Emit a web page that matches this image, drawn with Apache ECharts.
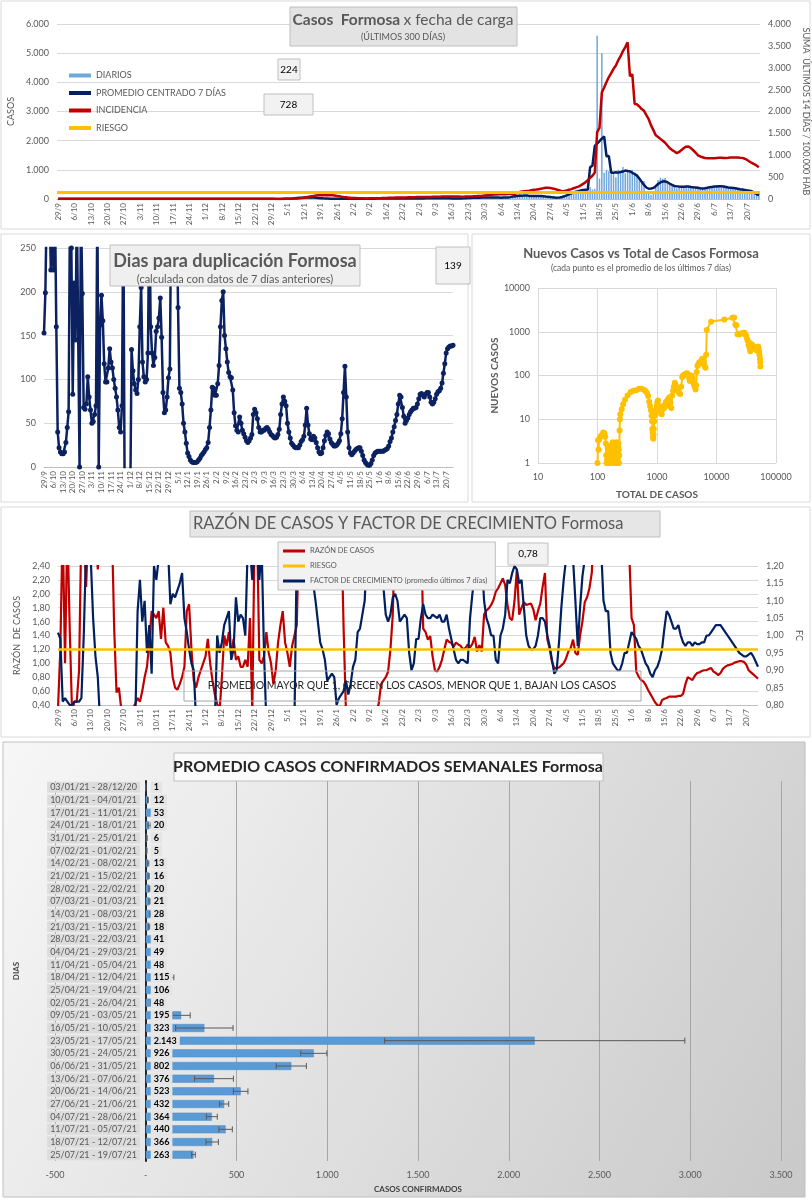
<!DOCTYPE html>
<html><head><meta charset="utf-8">
<script src="https://cdn.jsdelivr.net/npm/echarts@6/dist/echarts.min.js"></script>
<style>html,body{margin:0;padding:0;background:#fff}#c{width:812px;height:1200px}</style>
</head><body><div id="c"></div><script>
const FONT = 'Lato';
const GRAY = '#595959';

// ---------- categories ----------
const days = [];
for (let i = 0; i < 300; i++) { const d = new Date(2020, 8, 29 + i); days.push(d.getDate() + '/' + (d.getMonth() + 1)); }

// ---------- chart 1: daily cases (29/9/20 - 25/7/21) ----------
const dailyCases = [2,0,
1,3,0,2,1,0,4,2,1,0,3,1,2,0,1,5,2,0,1,3,0,2,1,0,1,2,4,1,0,2,1,
0,1,2,3,1,0,2,1,4,2,0,1,3,1,0,2,1,1,0,3,2,1,0,1,2,0,1,3,1,0,
1,2,0,1,3,2,1,0,2,1,4,1,0,2,1,3,0,1,2,1,0,2,1,3,0,1,2,
1,0,2,1,1,2,0, 3,5,8,10,15,20,23, 40,55,62,70,48,55,41, 35,28,22,18,15,12,10,
8,7,6,5,6,5,5, 4,6,5,3,6,5,6, 8,10,12,15,14,16,16, 14,18,15,17,16,15,17,
18,22,19,21,20,20,20, 24,20,22,19,23,20,19, 25,30,27,32,28,26,28, 22,18,16,19,17,18,16,
30,35,45,40,48,44,45, 52,50,47,49,51,46,48, 45,50,52,46,44,50,49, 90,120,180,110,95,110,100,
120,110,105,100,95,110,102, 70,55,45,40,38,42,46, 60,110,150,200,250,280,315, 250,300,280,350,400,330,351,
5600,700,5000,900,1000,950,851, 850,750,1000,900,1100,880,1002, 950,1000,900,850,700,600,614,
250,200,150,250,400,650,732, 700,720,520,480,450,420,371, 420,450,440,430,410,450,424,
380,350,360,370,340,380,368, 420,450,480,460,430,410,430, 400,390,370,350,360,340,352,
300,290,272,255,260,240,224];

const avg7 = [1,1,2,1,1,2,2,1,1,1, 2,1,2,2,1,1,1,2,1,1, 1,1,1,2,2,1,1,1,1,1, 1,1,2,2,1,1,1,1,2,1,
1,1,1,1,1,2,1,1,1,1, 1,1,1,1,1,1,2,1,1,1, 1,1,1,1,1,2,1,1,1,1, 2,1,1,1,1,1,1,1,2,1, 1,1,1,1,1,1,1,1,1,1,
1,1,1,2,3,4,6, 8,10,12,17,25,32,39, 45,50,53,54,52,48,42, 36,28,22,18,15,12,10,
8,7,6,6,5,5,5, 5,5,5,5,6,7,8, 9,10,11,12,13,14,15, 15,16,16,16,16,17,17,
18,19,19,20,20,20,21, 21,21,21,21,22,23,23, 24,26,28,28,28,27,25, 23,21,18,18,17,20,24,
28,32,37,41,45,46,47, 48,49,49,49,49,49,48, 48,47,48,48,54,64,83, 92,99,108,115,119,118,107,
106,106,106,106,99,91,82, 74,66,56,48,47,54,69, 92,123,157,195,222,249,268, 289,311,318,323,1087,1144,1819,
1897,1983,2072,2143,1464,1472,900, 900,914,904,926,940,976,962, 955,897,857,802,702,588,481,
395,352,359,376,440,515,567, 600,607,575,523,483,444,433, 426,420,424,432,426,412,401,
392,382,372,364,370,384,401, 414,427,431,440,437,429,413, 397,387,377,366,352,337,323,
309,295,280,263,220,170,120];

const incidence = [3,3,3,3,3,3,4,4,4,3, 3,3,3,4,4,4,4,3,3,3, 3,3,3,3,3,3,3,3,3,3, 3,3,3,3,3,3,3,3,3,3,
3,3,3,3,3,3,3,3,3,3, 3,3,3,3,3,3,3,3,3,3, 3,3,3,3,3,3,3,3,3,3, 3,3,3,3,3,3,3,3,3,3, 3,3,3,3,3,3,3,3,3,3,
3,3,3,2,2,2,2, 3,4,5,7,9,12,16, 22,31,42,53,62,71,78, 83,86,87,88,88,87,85,
78,70,62,53,45,38,31, 27,24,22,19,17,15,13, 14,15,16,17,18,20,21, 23,25,27,29,31,33,34,
35,36,37,38,40,41,42, 43,44,45,46,47,47,48, 49,50,52,53,55,56,57, 57,56,56,55,55,54,54,
56,58,60,62,65,67,69, 75,82,88,93,98,102,105, 107,109,110,111,112,112,113, 120,135,160,170,178,185,190,
200,210,215,225,235,245,258, 255,250,240,230,210,195,180, 185,195,210,225,245,265,284, 313,345,380,430,485,530,604,
1527,1625,2433,2550,2675,2787,2876, 2976,3051,3171,3263,3380,3472,3580, 2805,2855,2172,2164,2114,2056,2016,
1916,1824,1682,1574,1457,1419,1374, 1332,1285,1222,1160,1118,1088,1048, 1076,1118,1166,1196,1198,1165,1114,
1061,999,972,954,936,929,929, 929,929,936,941,944,937,938, 941,948,950,947,950,943,940,
920,893,858,824,796,768,728];
const riesgoIncidencia = 150;

// ---------- chart 2: days to double ----------
const doublingDays = [153,199,300,300,300,225,300,225,300,160,40,22,17,15,15,17,28,45,63,300,250,83,210,145,300,300,0,300,
198,68,66,72,103,80,65,50,52,60,70,300,0,162,196,167,118,97,97,113,135,120,113,100,90,80,65,45,40,70,300,
-50,-50,-50,-50,-50,
134,110,95,88,84,100,160,205,120,103, 97,100,130,300,160,130,116,125,155,160,
170,193,148,85,62,65,80,102,112,300, 300,300,300,300,182,90,85,72,50,40,
27,16,12,8,6,5,5,5,6,8, 10,13,15,17,20,22,28,45,65,91,
90,82,82,95,116,160,190,200,150,135, 120,108,103,102,88,62,47,42,40,57,
50,42,38,34,30,28,30,33,37,60, 66,62,55,45,40,40,42,42,44,45,
43,40,37,36,34,33,34,37,43,60, 72,80,75,70,50,40,33,27,25,23,
22,22,22,25,29,31,35,48,67,48, 38,32,31,35,33,28,22,17,15,16,
22,30,36,40,38,32,28,26,24,24, 25,27,30,38,55,85,115,80,40,22,
16,14,16,18,20,21,22,22,18,13, 8,5,3,2,2,4,8,13,16,17,
18,18,18,18,18,19,20,21,24,29, 33,40,46,53,60,72,82,80,68,58,
50,53,56,60,63,65,67,67,68,72, 78,83,84,82,80,83,85,85,80,74,
72,74,78,83,86,87,90,96,107,118, 130,135,137,138,138,139];

// ---------- chart 3: new cases vs total (log-log) ----------
const totalCases = [100,102,104,106,110,115,120,125,130,135,138,140,142,145,148,150,152,155,158,160,163,165,168,170,172,175,178,180,182,185,188,190,193,195,198,200,203,205,208,210,212,215,218,220,222,225,228,230,232,235,238,242,255,270,290,320,360,400,450,500,550,600,640,680,710,740,765,790,810,825,835,845,855,865,875,885,900,915,930,950,970,990,1010,1040,1070,1100,1130,1160,1200,1240,1280,1320,1370,1420,1470,1520,1570,1620,1680,1740,1800,1860,1920,1990,2050,2120,2200,2280,2350,2450,2550,2650,2750,2900,3050,3200,3350,3450,3550,3650,3800,3950,4050,4150,4300,4450,4550,4650,4780,4950,5150,5350,5550,5750,5950,6150,6350,6550,6700,6850,8100,13500,18500,19800,20800,21600,22500,24000,25500,27000,28500,29500,30500,31500,32500,33500,34500,35500,36200,36800,37600,38800,39800,40800,41800,42800,43800,44800,45800,46800,47800,48800,49800,50600,51400,52200,53000,53800,54300,54700];
const newCasesAvg = [1,3.3,2,3.4,3.8,4.2,4.5,5,4.8,4,2.8,1.5,1,1.2,2.2,1.6,1,1.4,2,1.2,1,1.8,2.5,1.5,1,1.2,2,3,2.2,1.3,1,1.5,2.5,2.8,2,1.2,1,1.6,2.4,3,2.6,1.5,1,1.3,2.4,2.8,2,1,1.5,5.5,10,13,17,22,28,35,42,45,46,50,50,47,44,40,34,25,20,16,12,9,6,5,4,3.6,4.5,6,9,12,15,13,17,20,24,27,20,16,18,15,13,17,20,18,22,25,20,28,30,32,24,18,35,45,55,68,60,48,45,52,40,38,55,92,100,105,110,112,105,90,75,80,100,88,70,62,55,48,60,120,165,180,200,190,215,240,230,200,160,150,300,1100,1700,1900,2100,2120,1450,1400,880,860,900,920,950,950,880,800,700,620,500,560,420,360,480,520,450,480,430,420,440,430,400,380,420,450,460,420,380,330,290,240,200,160];

// ---------- chart 4: ratio of cases and growth factor ----------
const razonCasos = [0.35,1.2,3.0,1.0,3.0,1.5,0.3,0.45,0.45,0.9,
3.0,3.0,2.1,3.0,3.0,3.0,3.0,2.35,3.0,3.0,
3.0,3.0,3.0,3.0,1.5,0.58,0.65,0.35,0.3,0.3,
0.3,0.3,0.35,0.42,0.5,0.45,0.6,0.8,0.95,1.3,
1.75,1.7,1.65,1.75,1.35,1.8,1.3,1.25,1.15,0.8,
0.65,0.62,0.7,0.8,0.95,1.75,1.85,1.2,0.75,0.65,
0.8,0.9,1.0,1.1,1.35,1.0,0.75,0.55,0.42,0.3,
0.8,1.4,1.25,1.45,1.1,1.35,1.05,1.1,0.95,0.95,
1.05,0.95,1.65,0.3,3.0,3.0,1.05,1.0,1.1,1.45,
1.15,1.0,0.7,0.9,1.3,1.55,1.75,1.3,1.15,0.95,
1.25,1.4,1.55,3.0,3.0,3.0,3.0,3.0,3.0,3.0,
3.0,3.0,3.0,3.0,3.0,3.0,3.0,3.0,3.0,3.0,
3.0,3.0,1.5,0.3,0.3,0.3,0.3,0.3,0.3,0.3,
0.3,0.3,0.3,0.3,0.3,0.3,0.3,0.42,0.7,0.75,
0.8,0.88,1.2,1.7,3.0,3.0,3.0,3.0,3.0,3.0,
3.0,3.0,3.0,3.0,3.0,3.0,1.5,1.45,1.34,1.39,
1.1,0.9,0.88,0.95,1.05,1.2,1.34,1.31,1.29,1.24,
1.3,1.27,1.25,1.2,1.22,1.27,1.23,1.28,1.38,1.17,
1.26,1.17,1.7,1.76,1.79,1.84,1.91,2.03,2.08,2.15,
2.22,2.13,1.84,1.65,1.62,1.9,2.35,1.7,1.8,1.88,
1.84,1.85,1.86,1.78,1.62,1.75,1.86,2.1,2.3,1.35,
1.21,1.02,0.93,0.93,0.94,0.97,1.0,1.07,1.17,1.22,
1.34,1.15,1.12,1.4,1.6,1.88,1.95,2.08,2.3,3.0,
3.0,3.0,3.0,3.0,3.0,3.0,3.0,3.0,3.0,3.0,
3.0,3.0,3.0,3.0,2.6,1.65,1.55,0.88,0.81,0.76,
0.74,0.69,0.62,0.56,0.5,0.44,0.4,0.38,0.47,0.49,
0.5,0.52,0.52,0.52,0.52,0.53,0.53,0.56,0.7,0.8,
0.78,0.76,0.82,0.86,0.87,0.89,0.9,0.9,0.92,0.93,
0.88,0.86,0.83,0.86,0.92,0.95,0.97,0.98,0.99,1.01,
1.02,1.03,1.03,1.02,0.98,0.9,0.87,0.84,0.81,0.78];

const factorCrecimiento = [1.008,0.99,0.81,0.82,0.81,0.80,0.80,0.81,0.81,0.81,
0.82,1.0,1.25,1.25,1.22,1.05,0.94,0.88,0.75,0.75,
0.75,0.75,0.75,0.75,0.75,0.75,0.75,0.75,0.75,0.75,
0.75,0.75,0.75,0.75,1.07,1.16,1.04,1.10,0.95,1.03,
0.89,1.2,1.16,1.22,1.25,1.25,1.25,1.25,1.09,1.12,
1.11,1.13,1.15,1.18,1.05,1.01,0.96,0.92,0.9,0.75,
0.75,0.75,0.75,0.75,0.75,0.75,0.75,0.75,1.0,0.95,
0.98,1.03,1.05,1.07,0.93,0.96,1.11,1.04,1.06,1.05,
1.0,1.25,1.25,1.16,1.25,1.25,1.16,1.25,0.95,0.75,
0.75,0.75,0.75,0.75,0.75,0.75,0.75,0.75,0.75,0.75,
0.75,0.75,1.25,1.25,1.25,1.25,1.25,1.25,1.25,1.15,
1.1,1.04,0.98,0.96,0.93,0.87,0.88,0.89,0.88,0.80,
0.82,0.83,0.84,0.87,0.83,0.86,0.91,0.93,1.01,1.02,
1.06,1.1,1.25,1.25,1.25,1.25,1.25,1.25,1.25,1.14,
1.06,1.04,1.06,1.11,1.12,1.10,1.04,1.05,1.06,1.05,
0.95,0.90,0.92,0.99,0.99,1.05,1.09,1.06,1.05,1.05,
1.06,1.055,1.05,1.06,1.04,1.04,1.06,1.02,0.99,0.96,
0.93,0.92,0.93,0.93,0.925,0.92,1.05,1.12,1.17,1.22,
1.25,1.22,1.1,1.05,1.03,1.0,1.0,0.93,0.92,1.0,
1.02,1.06,1.16,1.15,1.18,1.2,1.19,1.15,1.16,1.08,
1.0,0.97,0.96,0.96,0.97,1.0,1.05,1.05,1.04,1.0,
0.97,0.93,0.89,0.9,0.98,1.08,1.16,1.22,1.25,1.25,
1.22,1.1,0.97,1.08,1.17,1.22,1.25,1.25,1.25,1.25,
1.25,1.25,1.25,1.1,1.07,1.07,0.95,0.92,0.91,0.90,
0.90,0.92,0.95,0.95,0.98,1.01,1.0,0.99,0.97,0.96,
0.94,0.92,0.91,0.89,0.88,0.9,0.91,0.93,0.96,1.02,
1.07,1.06,1.04,1.02,1.02,1.03,1.0,0.98,0.97,0.98,
0.98,0.97,0.98,0.975,0.975,0.98,0.98,1.0,1.0,1.01,
1.02,1.03,1.03,1.03,1.02,1.01,1.0,0.99,0.98,0.97,
0.96,0.95,0.945,0.94,0.94,0.945,0.95,0.94,0.925,0.91];
const riesgoRazon = 1.2;

// ---------- chart 5: weekly averages ----------
const weekLabels = ['03/01/21 - 28/12/20','10/01/21 - 04/01/21','17/01/21 - 11/01/21','24/01/21 - 18/01/21','31/01/21 - 25/01/21','07/02/21 - 01/02/21','14/02/21 - 08/02/21','21/02/21 - 15/02/21','28/02/21 - 22/02/21','07/03/21 - 01/03/21','14/03/21 - 08/03/21','21/03/21 - 15/03/21','28/03/21 - 22/03/21','04/04/21 - 29/03/21','11/04/21 - 05/04/21','18/04/21 - 12/04/21','25/04/21 - 19/04/21','02/05/21 - 26/04/21','09/05/21 - 03/05/21','16/05/21 - 10/05/21','23/05/21 - 17/05/21','30/05/21 - 24/05/21','06/06/21 - 31/05/21','13/06/21 - 07/06/21','20/06/21 - 14/06/21','27/06/21 - 21/06/21','04/07/21 - 28/06/21','11/07/21 - 05/07/21','18/07/21 - 12/07/21','25/07/21 - 19/07/21'];
const weeklyAvg = [1,12,53,20,6,5,13,16,20,21,28,18,41,49,48,115,106,48,195,323,2143,926,802,376,523,432,364,440,366,263];
const weeklyErr = [0,2,10,8,2,2,4,3,3,3,5,4,8,6,6,40,30,20,50,158,827,72,83,107,40,25,30,37,34,10];

[dailyCases, avg7, incidence, doublingDays, razonCasos, factorCrecimiento].forEach((a, k) => {
  if (a.length !== 300) throw new Error('array ' + k + ' length ' + a.length);
});
if (totalCases.length !== newCasesAvg.length) throw new Error('scatter len ' + totalCases.length + ' ' + newCasesAvg.length);

function thou(v) { const s = Math.abs(Math.round(v)).toString().replace(/\B(?=(\d{3})+(?!\d))/g, '.'); return (v < 0 ? '-' : '') + s; }
function comma2(v) { return v.toFixed(2).replace('.', ','); }

function catAxis(gi, gap) {
  return { type: 'category', gridIndex: gi, data: days, boundaryGap: gap,
    axisTick: { show: false }, axisLine: { lineStyle: { color: '#bfbfbf' } },
    axisLabel: { interval: 6, rotate: 90, fontSize: 8, color: GRAY, margin: 4, fontFamily: FONT } };
}
const split = { show: true, lineStyle: { color: '#d9d9d9', width: 1 } };
const lbl = (extra) => Object.assign({ fontSize: 9, color: GRAY, fontFamily: FONT }, extra || {});

const chart = echarts.init(document.getElementById('c'), null, { renderer: 'canvas' });

const box = (x, y, w, h, fill, stroke, z) => ({ type: 'rect', shape: { x, y, width: w, height: h }, style: { fill: fill, stroke: stroke, lineWidth: 1 }, z: z, silent: true });
const txt = (x, y, text, opt) => ({ type: 'text', x, y, z: 101, silent: true,
  style: Object.assign({ text, fontFamily: FONT, fontSize: 10, fill: GRAY, align: 'center', verticalAlign: 'middle' }, opt || {}) });

const graphics = [
  box(1, 1, 809, 228, 'rgba(0,0,0,0)', '#d9d9d9', -10),
  box(1, 234, 467, 268, 'rgba(0,0,0,0)', '#d9d9d9', -10),
  box(472, 234, 338, 268, 'rgba(0,0,0,0)', '#d9d9d9', -10),
  box(1, 507, 809, 230, 'rgba(0,0,0,0)', '#d9d9d9', -10),
  { type: 'rect', z: -10, silent: true, shape: { x: 3, y: 742, width: 802, height: 455 },
    style: { stroke: '#bfbfbf', lineWidth: 1, fill: new echarts.graphic.LinearGradient(0, 0, 1, 1, [{ offset: 0, color: '#f7f7f7' }, { offset: 1, color: '#c9c9c9' }]) } },
  // chart 1
  box(290, 7, 227, 39, '#e3e3e3', '#bfbfbf', 100),
  { type: 'text', x: 403, y: 20, z: 101, silent: true, style: { text: '{b|Casos  Formosa} {n|x fecha de carga}', align: 'center', verticalAlign: 'middle',
    rich: { b: { fontFamily: FONT, fontSize: 15.5, fontWeight: 'bold', fill: GRAY }, n: { fontFamily: FONT, fontSize: 15.5, fill: GRAY } } } },
  txt(403, 37, '(ÚLTIMOS 300 DÍAS)', { fontSize: 9 }),
  box(278, 59, 22, 21, '#f2f2f2', '#bfbfbf', 100),
  txt(289, 70, '224', { fill: '#000', fontSize: 10 }),
  box(264, 94, 49, 21, '#f2f2f2', '#bfbfbf', 100),
  txt(288.5, 104.5, '728', { fill: '#000', fontSize: 10 }),
  // chart 2
  box(110, 245, 250, 41, '#efefef', '#bfbfbf', 100),
  txt(235, 261, 'Dias para duplicación Formosa', { fontSize: 18, fontWeight: 'bold' }),
  txt(235, 279, '(calculada con datos de 7 días anteriores)', { fontSize: 11 }),
  box(436, 247, 34, 37, '#f2f2f2', '#bfbfbf', 100),
  txt(453, 266, '139', { fill: '#000', fontSize: 10 }),
  // chart 3
  txt(641, 254, 'Nuevos Casos vs Total de Casos Formosa', { fontSize: 13, fontWeight: 'bold' }),
  txt(641, 268, '(cada punto es el promedio de los últimos 7 días)', { fontSize: 8.5 }),
  // chart 4
  box(190, 511, 470, 26, '#e6e6e6', '#bfbfbf', 100),
  txt(193, 524, 'RAZÓN DE CASOS Y FACTOR DE CRECIMIENTO Formosa', { fontSize: 16.5, align: 'left' }),
  box(508, 543, 40, 22, '#f2f2f2', '#bfbfbf', 100),
  txt(528, 554, '0,78', { fill: '#000', fontSize: 10 }),
  box(184, 671, 457, 30, 'rgba(0,0,0,0)', '#a6a6a6', 100),
  txt(412, 686, 'PROMEDIO MAYOR QUE 1, CRECEN LOS CASOS, MENOR QUE 1, BAJAN LOS CASOS', { fontSize: 10.5, fill: '#262626' }),
  // chart 5
  box(174, 753, 429, 28, '#fbfbfb', '#bfbfbf', 100),
  txt(388, 767, 'PROMEDIO CASOS CONFIRMADOS SEMANALES Formosa', { fontSize: 16, fontWeight: 'bold', fill: '#262626' })
];

// error bars + value labels (drawn together so the label sits on top of the error bar)
const errData = weeklyAvg.map((v, i) => [v - weeklyErr[i], i, v + weeklyErr[i], v]);

const legItem = (name) => ({ name, icon: 'rect' });

const option = {
  animation: false,
  textStyle: { fontFamily: FONT },
  graphic: { elements: graphics },
  legend: [
    { data: ['DIARIOS', 'PROMEDIO CENTRADO 7 DÍAS', 'INCIDENCIA', 'RIESGO'].map(legItem), left: 64, top: 66, orient: 'vertical',
      itemWidth: 22, itemHeight: 4, itemGap: 8.5, selectedMode: false, textStyle: { fontSize: 9, color: GRAY, fontFamily: FONT } },
    { data: ['RAZÓN DE CASOS', 'RIESGO ', 'FACTOR DE CRECIMIENTO (promedio últimos 7 días)'].map(legItem), left: 278, top: 542, orient: 'vertical',
      itemWidth: 22, itemHeight: 3, itemGap: 7, selectedMode: false, backgroundColor: '#f2f2f2', borderColor: '#bfbfbf', borderWidth: 1,
      padding: [5, 8, 5, 5], textStyle: { fontSize: 7.5, color: GRAY, fontFamily: FONT } }
  ],
  grid: [
    { left: 57, top: 24, width: 703, height: 175, outerBoundsMode: 'none' },
    { left: 44, top: 248, width: 409, height: 219, outerBoundsMode: 'none' },
    { left: 538, top: 288, width: 238, height: 175, outerBoundsMode: 'none' },
    { left: 58, top: 566, width: 700, height: 139, outerBoundsMode: 'none' },
    { left: 55, top: 781, width: 726, height: 380, outerBoundsMode: 'none' }
  ],
  xAxis: [
    catAxis(0, true),
    catAxis(1, false),
    { type: 'log', gridIndex: 2, logBase: 10, min: 10, max: 100000, splitLine: split, axisLine: { show: false }, axisTick: { show: false },
      axisLabel: lbl({ formatter: v => String(Math.round(v)), margin: 10 }),
      name: 'TOTAL DE CASOS', nameLocation: 'middle', nameGap: 27, nameTextStyle: { fontSize: 10, fontWeight: 'bold', color: '#595959', fontFamily: FONT } },
    catAxis(3, false),
    { type: 'value', gridIndex: 4, min: -500, max: 3500, interval: 500, splitLine: { show: true, lineStyle: { color: '#a6a6a6' } },
      axisLine: { show: false }, axisTick: { show: false },
      axisLabel: lbl({ formatter: v => v === 0 ? '-' : thou(v), margin: 10 }),
      name: 'CASOS CONFIRMADOS', nameLocation: 'middle', nameGap: 24, nameTextStyle: { fontSize: 8, fontWeight: 'bold', color: '#404040', fontFamily: FONT } }
  ],
  yAxis: [
    { type: 'value', gridIndex: 0, min: 0, max: 6000, interval: 1000, splitLine: split, axisLine: { show: false }, axisTick: { show: false },
      axisLabel: lbl({ formatter: thou }), name: 'CASOS', nameLocation: 'middle', nameGap: 38, nameRotate: 90, nameTextStyle: { fontSize: 9, color: GRAY, fontFamily: FONT } },
    { type: 'value', gridIndex: 0, position: 'right', min: 0, max: 4000, interval: 500, splitLine: { show: false }, axisLine: { show: false }, axisTick: { show: false },
      axisLabel: lbl({ formatter: thou }), name: 'SUMA  ÚLTIMOS 14 DÍAS / 100.000 HAB', nameLocation: 'middle', nameGap: 36, nameRotate: -90, nameTextStyle: { fontSize: 9, color: GRAY, fontFamily: FONT } },
    { type: 'value', gridIndex: 1, min: 0, max: 250, interval: 50, splitLine: split, axisLine: { show: false }, axisTick: { show: false }, axisLabel: lbl() },
    { type: 'log', gridIndex: 2, logBase: 10, min: 1, max: 10000, splitLine: split, axisLine: { show: false }, axisTick: { show: false },
      axisLabel: lbl({ formatter: v => String(Math.round(v)) }),
      name: 'NUEVOS CASOS', nameLocation: 'middle', nameGap: 34, nameRotate: 90, nameTextStyle: { fontSize: 10, fontWeight: 'bold', color: '#595959', fontFamily: FONT } },
    { type: 'value', gridIndex: 3, min: 0.4, max: 2.4, interval: 0.2, splitLine: split, axisLine: { show: false }, axisTick: { show: false },
      axisLabel: lbl({ formatter: comma2 }), name: 'RAZÓN  DE CASOS', nameLocation: 'middle', nameGap: 36, nameRotate: 90, nameTextStyle: { fontSize: 9, color: GRAY, fontFamily: FONT } },
    { type: 'value', gridIndex: 3, position: 'right', min: 0.8, max: 1.2, interval: 0.05, splitLine: { show: false }, axisLine: { show: false }, axisTick: { show: false },
      axisLabel: lbl({ formatter: comma2 }), name: 'FC', nameLocation: 'middle', nameGap: 34, nameRotate: -90, nameTextStyle: { fontSize: 9, color: GRAY, fontFamily: FONT } },
    { type: 'category', gridIndex: 4, data: weekLabels, inverse: true, axisTick: { show: false }, offset: -91,
      axisLine: { onZero: false, lineStyle: { color: '#262626', width: 2 } },
      axisLabel: lbl({ backgroundColor: '#dcdcdc', padding: [1, 3], margin: 6, interval: 0, showMinLabel: true, showMaxLabel: true, hideOverlap: false }),
      name: 'DIAS', nameLocation: 'middle', nameGap: 126, nameRotate: 90, nameTextStyle: { fontSize: 8, fontWeight: 'bold', color: '#404040', fontFamily: FONT } }
  ],
  series: [
    { name: 'DIARIOS', type: 'bar', xAxisIndex: 0, yAxisIndex: 0, data: dailyCases, barCategoryGap: '35%', itemStyle: { color: '#6fa8dc' } },
    { name: 'PROMEDIO CENTRADO 7 DÍAS', type: 'line', xAxisIndex: 0, yAxisIndex: 0, data: avg7, symbol: 'none', color: '#002060', lineStyle: { color: '#002060', width: 2.5 } },
    { name: 'INCIDENCIA', type: 'line', xAxisIndex: 0, yAxisIndex: 1, data: incidence, symbol: 'none', color: '#c00000', lineStyle: { color: '#c00000', width: 2.5 } },
    { name: 'RIESGO', type: 'line', xAxisIndex: 0, yAxisIndex: 1, data: [], symbol: 'none', color: '#ffc000', lineStyle: { color: '#ffc000', width: 3 },
      markLine: { silent: true, symbol: ['none', 'none'], label: { show: false }, lineStyle: { color: '#ffc000', width: 3, type: 'solid' }, data: [{ yAxis: riesgoIncidencia }] } },

    { name: 'duplicacion', type: 'line', xAxisIndex: 1, yAxisIndex: 2, data: doublingDays, symbol: 'circle', symbolSize: 5, showAllSymbol: true, color: '#0b2160',
      lineStyle: { color: '#0b2160', width: 2.5 }, itemStyle: { color: '#0b2160' } },

    { name: 'scatter', type: 'line', xAxisIndex: 2, yAxisIndex: 3, data: totalCases.map((x, i) => [x, newCasesAvg[i]]), symbol: 'circle', symbolSize: 6, showAllSymbol: true,
      color: '#ffc000', lineStyle: { color: '#ffc000', width: 2 }, itemStyle: { color: '#ffc000' } },

    { name: 'RAZÓN DE CASOS', type: 'line', xAxisIndex: 3, yAxisIndex: 4, data: razonCasos, symbol: 'none', color: '#c00000', lineStyle: { color: '#c00000', width: 2.2 } },
    { name: 'FACTOR DE CRECIMIENTO (promedio últimos 7 días)', type: 'line', xAxisIndex: 3, yAxisIndex: 5, data: factorCrecimiento, symbol: 'none', color: '#002060', lineStyle: { color: '#002060', width: 2.2 } },
    { name: 'RIESGO ', type: 'line', xAxisIndex: 3, yAxisIndex: 4, data: [], symbol: 'none', color: '#ffc000', lineStyle: { color: '#ffc000', width: 3 },
      markLine: { silent: true, symbol: ['none', 'none'], label: { show: false }, lineStyle: { color: '#ffc000', width: 2.5, type: 'solid' }, data: [{ yAxis: riesgoRazon }] } },

    { name: 'semanal', type: 'bar', xAxisIndex: 4, yAxisIndex: 6, data: weeklyAvg, barWidth: 8, z: 2,
      itemStyle: { color: '#5b9bd5', borderColor: '#4a8ac4', borderWidth: 0.5 } },
    { name: 'error', type: 'custom', xAxisIndex: 4, yAxisIndex: 6, data: errData, encode: { x: [0, 2, 3], y: 1 }, z: 4,
      renderItem: function (params, api) {
        const c = api.value(1);
        const lo = api.value(0), hi = api.value(2), v = api.value(3);
        const p1 = api.coord([lo, c]);
        const p2 = api.coord([hi, c]);
        const z0 = api.coord([0, c]);
        const st = { stroke: '#595959', lineWidth: 1 };
        const ch = [];
        if (hi > lo) {
          ch.push({ type: 'line', shape: { x1: p1[0], y1: p1[1], x2: p2[0], y2: p2[1] }, style: st });
          ch.push({ type: 'line', shape: { x1: p1[0], y1: p1[1] - 3, x2: p1[0], y2: p1[1] + 3 }, style: st });
          ch.push({ type: 'line', shape: { x1: p2[0], y1: p2[1] - 3, x2: p2[0], y2: p2[1] + 3 }, style: st });
        }
        ch.push({ type: 'text', x: z0[0] + 5, y: z0[1], style: { text: thou(v), fontFamily: FONT, fontSize: 9, fontWeight: 'bold', fill: '#000',
          backgroundColor: '#e4e4e4', padding: [1, 3], align: 'left', verticalAlign: 'middle' } });
        return { type: 'group', children: ch };
      } }
  ]
};
chart.setOption(option);
</script></body></html>
